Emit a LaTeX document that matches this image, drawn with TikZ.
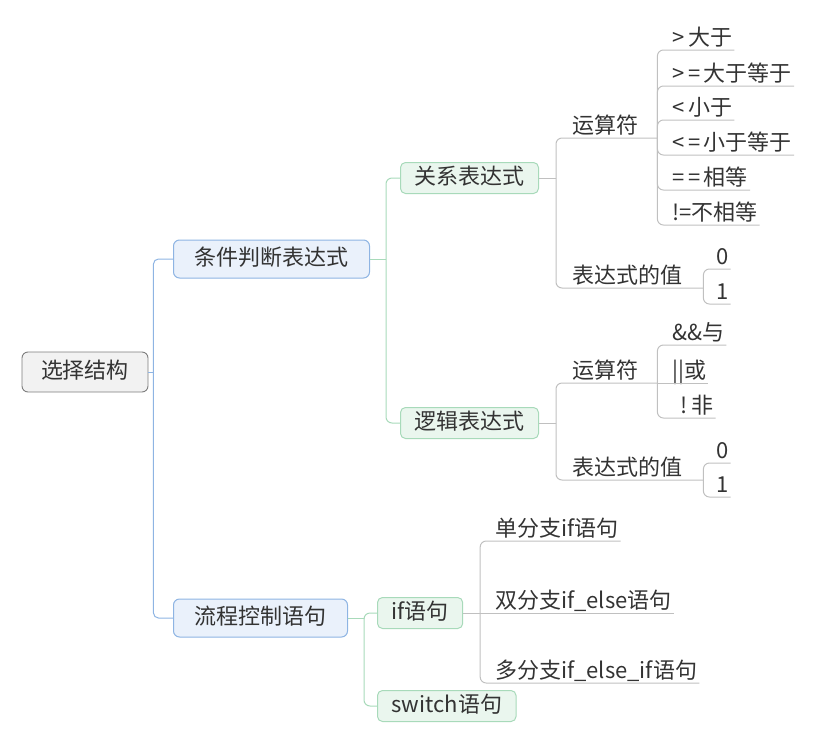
\documentclass[tikz,border=0pt]{standalone}
\usepackage{fontspec}
\setmainfont{Noto Sans CJK SC}
\usepackage{xcolor}
\definecolor{meucinzaescuro}{RGB}{125, 125, 125}
\definecolor{meucinzaclaro}{RGB}{242, 242, 242}
\definecolor{meuazul}{RGB}{142, 180, 227}
\definecolor{meuazulclaro}{RGB}{234, 241, 251}
\definecolor{meuverde}{RGB}{168, 218, 186}
\definecolor{meuverdeclaro}{RGB}{234, 246, 238}
\definecolor{meucinzalinha}{RGB}{192, 192, 192}
\definecolor{meutexto}{RGB}{51, 51, 51}
\newcommand{\mapfont}{\fontsize{22pt}{26pt}\selectfont}

\begin{document}
\begin{tikzpicture}[x=1pt, y=-1pt,
                rootbox/.style={draw=meucinzaescuro, fill=meucinzaclaro, rounded corners=6pt, line width=0.9pt, text=meutexto, font=\mapfont, inner xsep=19pt, inner ysep=0pt, minimum height=40pt, text height=1.3em, text depth=0em},
                mainbox/.style={draw=meuazul, fill=meuazulclaro, rounded corners=6pt, line width=1pt, text=meutexto, font=\mapfont, inner xsep=21pt, inner ysep=0pt, minimum height=38pt, text height=1.3em, text depth=0em, anchor=west},
                subbox/.style={draw=meuverde, fill=meuverdeclaro, rounded corners=5pt, line width=1pt, text=meutexto, font=\mapfont, inner xsep=14pt, inner ysep=0pt, minimum height=31pt, text height=1.3em, text depth=0em, anchor=west},
                leaf/.style={anchor=south west, inner xsep=2pt, inner ysep=1pt, text=meutexto, font=\mapfont, text height=0.85em, text depth=3pt},
                hubleaf/.style={leaf, text width=#1, align=left},
                bluelink/.style={draw=meuazul, line width=1pt, rounded corners=5pt},
                greenlink/.style={draw=meuverde, line width=1pt, rounded corners=6pt},
                graylink/.style={draw=meucinzalinha, line width=1pt, rounded corners=6pt}
            ]
                \useasboundingbox (0,0) rectangle (817,745);

                \node[rootbox] (xzjg) at (85,372) {选择结构};
                \node[mainbox] (tjpd) at (173,259) {条件判断表达式};
                \node[mainbox] (lckz) at (173,618) {流程控制语句};
                \node[subbox] (gxbds) at (400,178) {关系表达式};
                \node[subbox] (ljbds) at (400,423) {逻辑表达式};
                \node[subbox] (ifyj) at (377,613) {if语句};
                \node[subbox] (swyj) at (377,706) {switch语句};

                \node[hubleaf=83pt] (ysf1) at (570,138) {运算符};
                \node[hubleaf=129pt] (bdz1) at (570,288) {表达式的值};
                \node[hubleaf=83pt] (ysf2) at (570,383) {运算符};
                \node[hubleaf=129pt] (bdz2) at (570,480) {表达式的值};

                \node[leaf] (gt) at (670,50) {>\,大于};
                \node[leaf] (ge) at (670,86) {>\,=\,大于等于};
                \node[leaf] (lt) at (670,120) {<\,小于};
                \node[leaf] (le) at (670,155) {<\,=\,小于等于};
                \node[leaf] (eq) at (670,190) {=\,=\,相等};
                \node[leaf] (ne) at (670,225) {!=不相等};
                \node[leaf] (zero1) at (714,269) {0};
                \node[leaf] (one1) at (714,304) {1};
                \node[leaf] (yu) at (670,345) {\&\&与};
                \node[leaf] (huo) at (670,383) {||或};
                \node[leaf] (fei) at (670,418) {\hspace{8pt}!\hspace{4pt}非};
                \node[leaf] (zero2) at (714,463) {0};
                \node[leaf] (one2) at (714,497) {1};
                \node[leaf] (dan) at (493,541) {单分支if语句};
                \node[leaf] (shuang) at (493,613) {双分支if\_else语句};
                \node[leaf] (duo) at (493,683) {多分支if\_else\_if语句};

                \coordinate (xzjg-t) at ([xshift=5pt]xzjg.east);
                \coordinate (tjpd-t) at ([xshift=16pt]tjpd.east);
                \coordinate (lckz-t) at ([xshift=16pt]lckz.east);
                \coordinate (gxbds-t) at ([xshift=17pt]gxbds.east);
                \coordinate (ljbds-t) at ([xshift=17pt]ljbds.east);
                \coordinate (ifyj-t) at ([xshift=17pt]ifyj.east);

                \draw[bluelink] (xzjg.east) -- (xzjg-t);
                \draw[bluelink] (xzjg-t) |- (tjpd.west);
                \draw[bluelink] (xzjg-t) |- (lckz.west);
                \draw[greenlink] (tjpd.east) -- (tjpd-t);
                \draw[greenlink] (tjpd-t) |- (gxbds.west);
                \draw[greenlink] (tjpd-t) |- (ljbds.west);
                \draw[greenlink] (lckz.east) -- (lckz-t);
                \draw[greenlink] (lckz-t) |- (ifyj.west);
                \draw[greenlink] (lckz-t) |- (swyj.west);

                \draw[graylink] (gxbds.east) -- (gxbds-t);
                \draw[graylink] (gxbds-t) |- (ysf1.south east);
                \draw[graylink] (gxbds-t) |- (bdz1.south east);
                \draw[graylink] (ysf1.south east) |- (gt.south east);
                \draw[graylink] (ysf1.south east) |- (ge.south east);
                \draw[graylink] (ysf1.south east) |- (lt.south east);
                \draw[graylink] (ysf1.south east) |- (le.south east);
                \draw[graylink] (ysf1.south east) |- (eq.south east);
                \draw[graylink] (ysf1.south east) |- (ne.south east);
                \draw[graylink] (bdz1.south east) |- (zero1.south east);
                \draw[graylink] (bdz1.south east) |- (one1.south east);

                \draw[graylink] (ljbds.east) -- (ljbds-t);
                \draw[graylink] (ljbds-t) |- (ysf2.south east);
                \draw[graylink] (ljbds-t) |- (bdz2.south east);
                \draw[graylink] (ysf2.south east) |- (yu.south east);
                \draw[graylink] (ysf2.south east) -- (huo.south east);
                \draw[graylink] (ysf2.south east) |- (fei.south east);
                \draw[graylink] (bdz2.south east) |- (zero2.south east);
                \draw[graylink] (bdz2.south east) |- (one2.south east);

                \draw[graylink] (ifyj-t) |- (dan.south east);
                \draw[graylink] (ifyj.east) -- (shuang.south east);
                \draw[graylink] (ifyj-t) |- (duo.south east);
            \end{tikzpicture}
\end{document}
